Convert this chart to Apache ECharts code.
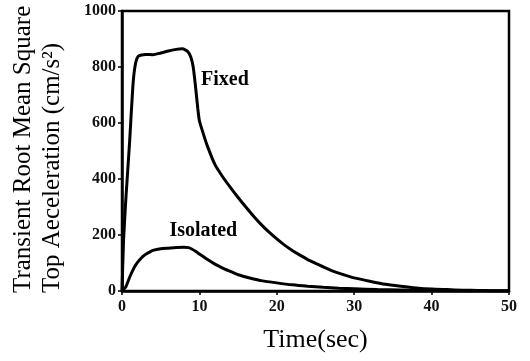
<!DOCTYPE html>
<html>
<head>
<meta charset="utf-8">
<script src="https://cdn.jsdelivr.net/npm/echarts@6/dist/echarts.min.js"></script>
<style>
  html, body { margin: 0; padding: 0; background: #fff; }
  #chart { width: 530px; height: 361px; }
</style>
</head>
<body>
<div id="chart"></div>
<script>
// time (sec), acceleration (cm/s^2)
const fixedData = [
  [0, 0], [0.2, 180], [0.5, 330], [1, 540], [1.4, 730], [1.7, 805], [2.1, 838],
  [3, 845], [4, 844], [5, 850], [6, 857], [7, 863], [7.8, 865], [8.5, 855],
  [8.9, 835], [9.2, 800], [9.5, 730], [9.8, 650], [10, 608], [10.5, 562],
  [11, 520], [12, 452], [13, 408], [14, 370], [15, 334], [16, 300], [17, 267],
  [18, 237], [19, 210], [20, 186], [21, 164], [22, 145], [23, 128], [24, 112],
  [25, 99], [26, 86], [27, 74], [28, 64], [29, 55], [30, 47], [32, 35],
  [34, 24], [36, 17], [38, 11], [40, 7], [42, 5], [44, 3], [46, 2], [48, 1], [50, 1]
];
const isolatedData = [
  [0, 0], [0.5, 15], [1, 50], [1.5, 80], [2, 102], [2.5, 118], [3, 130],
  [3.5, 138], [4, 145], [5, 151], [6, 153], [7, 155], [8, 156], [8.6, 155],
  [9, 150], [9.5, 142], [10, 132], [11, 113], [12, 96], [13, 82], [14, 70],
  [15, 58], [16, 50], [17, 43], [18, 37], [20, 29], [22, 22], [24, 17],
  [26, 13], [28, 10], [30, 8], [33, 5], [36, 4], [40, 2], [45, 1], [50, 0]
];
const xTicks = { min: 0, max: 50, step: 10 };
const yTicks = { min: 0, max: 1000, step: 200 };
const yTitle = ['Transient Root Mean Square', 'Top Aeceleration (cm/s\u00b2)'];
const xTitle = 'Time(sec)';

const serif = '"Liberation Serif", "DejaVu Serif", serif';

const chart = echarts.init(document.getElementById('chart'));
chart.setOption({
  animation: false,
  grid: {
    left: 122, right: 21, top: 11, bottom: 70,
    show: true, borderColor: '#000', borderWidth: 2.5
  },
  xAxis: {
    type: 'value',
    min: xTicks.min, max: xTicks.max, interval: xTicks.step,
    name: xTitle,
    nameLocation: 'middle',
    nameGap: 36,
    nameTextStyle: { fontFamily: serif, fontSize: 26, color: '#000' },
    axisLine: { lineStyle: { color: '#000', width: 2.5 } },
    axisTick: { length: 4, lineStyle: { color: '#000', width: 1.5 } },
    axisLabel: { fontFamily: serif, fontSize: 16, fontWeight: 'bold', color: '#111', margin: 8,
      formatter: v => String(v) },
    splitLine: { show: false }
  },
  yAxis: {
    type: 'value',
    min: yTicks.min, max: yTicks.max, interval: yTicks.step,
    axisLine: { show: true, lineStyle: { color: '#000', width: 2.5 } },
    axisTick: { show: true, length: 4, lineStyle: { color: '#000', width: 1.5 } },
    axisLabel: { fontFamily: serif, fontSize: 16, fontWeight: 'bold', color: '#111', margin: 6,
      formatter: v => String(v) },
    splitLine: { show: false }
  },
  graphic: yTitle.map((t, i) => ({
    type: 'text',
    x: 23 + i * 29,
    y: 293,
    rotation: Math.PI / 2,
    style: {
      text: t,
      font: '25px ' + serif,
      fill: '#000',
      align: 'left',
      verticalAlign: 'middle'
    }
  })),
  series: [
    {
      name: 'Fixed',
      type: 'line',
      data: fixedData,
      smooth: 0.2,
      showSymbol: false,
      lineStyle: { color: '#000', width: 3 },
      markPoint: {
        symbolSize: 0,
        label: { show: true, position: 'inside', formatter: 'Fixed',
          fontFamily: serif, fontSize: 20, fontWeight: 'bold', color: '#000' },
        data: [{ coord: [13.3, 754] }]
      }
    },
    {
      name: 'Isolated',
      type: 'line',
      data: isolatedData,
      smooth: 0.2,
      showSymbol: false,
      lineStyle: { color: '#000', width: 3 },
      markPoint: {
        symbolSize: 0,
        label: { show: true, position: 'inside', formatter: 'Isolated',
          fontFamily: serif, fontSize: 20, fontWeight: 'bold', color: '#000' },
        data: [{ coord: [10.5, 214] }]
      }
    }
  ]
});
</script>
</body>
</html>
